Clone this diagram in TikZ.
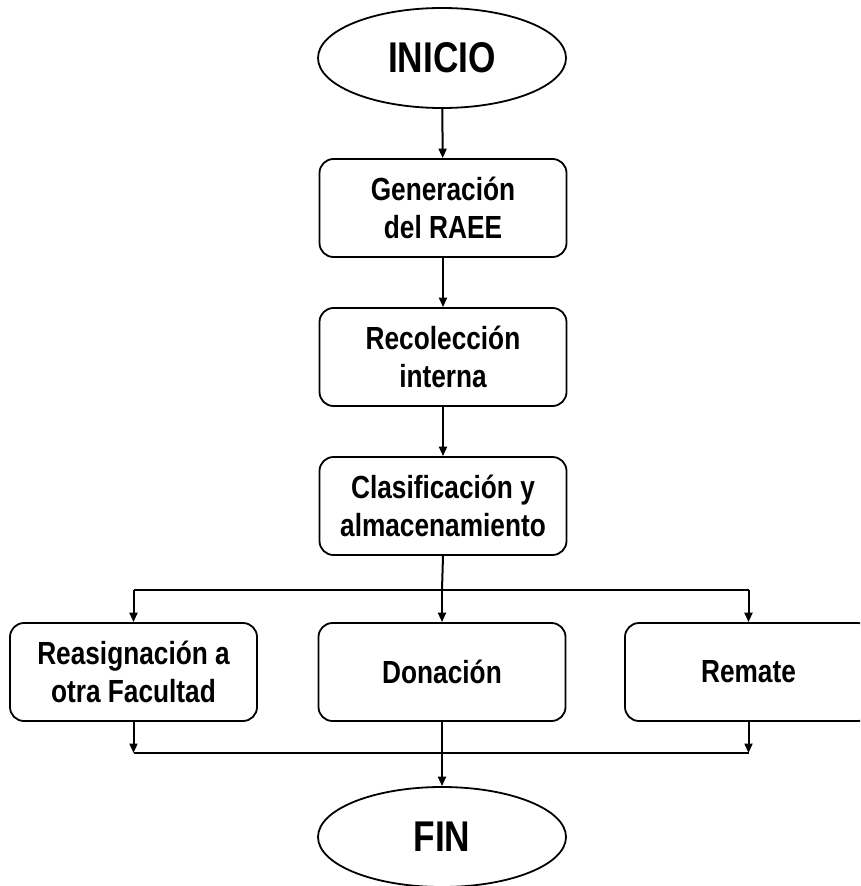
\documentclass[tikz,border=0pt]{standalone}
\usepackage{fontspec}
\setmainfont{Liberation Sans}[FakeStretch=0.82]
\usetikzlibrary{arrows.meta,shapes.geometric}
\tikzset{
  stepbox/.style={draw=black, line width=1.8pt, rounded corners=14pt, minimum width=247pt, minimum height=98pt, inner sep=0pt, align=center, font=\bfseries\fontsize{32}{38.5}\selectfont},
  term/.style={draw=black, line width=1.8pt, ellipse, minimum width=248pt, minimum height=100pt, inner sep=0pt, font=\bfseries\fontsize{43}{50}\selectfont},
  conn/.style={draw=black, line width=2pt},
  arr/.style={conn, -{Triangle[length=9.5pt,width=8pt]}}
}
\begin{document}
\begin{tikzpicture}[x=1pt,y=-1pt]
\clip (0,0) rectangle (860,886);
\fill[white] (0,0) rectangle (860,886);
\node[term] (ini) at (442,58) {INICIO};
\node[stepbox] (gen) at (443,208) {Generación\\del RAEE};
\node[stepbox] (rec) at (443,357) {Recolección\\interna};
\node[stepbox] (cla) at (443,506) {Clasificación y\\almacenamiento};
\node[stepbox] (rea) at (133.5,672) {Reasignación a\\otra Facultad};
\node[stepbox] (don) at (442,672) {Donación};
\node[stepbox] (rem) at (748.5,672) {Remate};
\node[term] (fin) at (442,837) {FIN};
\coordinate (bl) at (133.5,590);
\coordinate (bc) at (442,590);
\coordinate (br) at (748.5,590);
\coordinate (ml) at (133.5,753);
\coordinate (mc) at (442,753);
\coordinate (mr) at (748.5,753);
\draw[arr] (ini) -- (gen);
\draw[arr] (gen) -- (rec);
\draw[arr] (rec) -- (cla);
\draw[conn] (cla.south) -- (bc);
\draw[conn] (bl) -- (br);
\draw[arr] (bl) -- (rea.north);
\draw[arr] (bc) -- (don.north);
\draw[arr] (br) -- (rem.north);
\draw[arr] (rea.south) -- (ml);
\draw[arr] (rem.south) -- (mr);
\draw[conn] (ml) -- (mr);
\draw[arr] (don.south) -- (fin.north);
\end{tikzpicture}
\end{document}
